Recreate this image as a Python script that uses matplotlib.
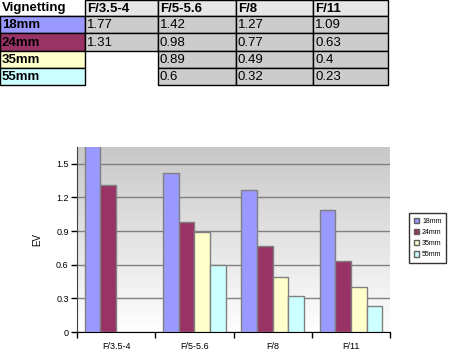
import numpy as np
import matplotlib.pyplot as plt
from matplotlib.patches import Rectangle, Patch

plt.rcParams['font.family'] = ['Liberation Sans', 'DejaVu Sans']

apertures = ['F/3.5-4', 'F/5-5.6', 'F/8', 'F/11']
lenses = ['18mm', '24mm', '35mm', '55mm']
ev_18 = [1.77, 1.42, 1.27, 1.09]
ev_24 = [1.31, 0.98, 0.77, 0.63]
ev_35 = [None, 0.89, 0.49, 0.4]
ev_55 = [None, 0.6, 0.32, 0.23]
lens_colors = ['#9999ff', '#993366', '#ffffcc', '#ccffff']

series = [ev_18, ev_24, ev_35, ev_55]

fig = plt.figure(figsize=(4.54, 3.6), dpi=100)

# table on top, drawn in pixel coordinates
tab = fig.add_axes([0, 0, 1, 1])
tab.set_xlim(0, 454)
tab.set_ylim(360, 0)
tab.axis('off')

col_x = [0, 85, 158, 236, 313, 388]
row_y = [0, 16, 33, 51, 68, 85]

def cell(c, r, fc, text, bold=False, edge='black', z=2):
    x0, x1 = col_x[c], col_x[c + 1]
    y0, y1 = row_y[r], row_y[r + 1]
    tab.add_patch(Rectangle((x0, y0), x1 - x0, y1 - y0, facecolor=fc,
                            edgecolor=edge, linewidth=1, zorder=z))
    if text:
        tab.text(x0 + 2, (y0 + y1) / 2 + 0.5, text, fontsize=9.5,
                 fontweight='bold' if bold else 'normal', color='black',
                 va='center', ha='left', zorder=3)

tab.text(2, 8.5, 'Vignetting', fontsize=9.5, fontweight='bold', va='center')
tab.plot([0, 85], [16, 16], color='black', lw=1)
for j, a in enumerate(apertures):
    cell(j + 1, 0, '#e6e6e6', a, bold=True)
for i, lens in enumerate(lenses):
    cell(0, i + 1, lens_colors[i], lens, bold=True)
    for j in range(4):
        v = series[i][j]
        if v is None:
            cell(j + 1, i + 1, 'white', '', edge='none', z=1)
        else:
            cell(j + 1, i + 1, '#cccccc', str(v))

# bar chart
ax = fig.add_axes([77 / 454, 1 - 332 / 360, 313 / 454, 185 / 360])
grad = np.linspace(0, 1, 256).reshape(-1, 1)
ax.imshow(grad, cmap=plt.matplotlib.colors.LinearSegmentedColormap.from_list(
    'bg', ['#c8c8c8', '#ffffff']), extent=[0, 1, 0, 1], transform=ax.transAxes,
    aspect='auto', zorder=0)

x = np.arange(len(apertures))
w = 0.2
for i, vals in enumerate(series):
    v = np.array([np.nan if t is None else t for t in vals], dtype=float)
    ax.bar(x - 0.3 + i * w, v, width=w, color=lens_colors[i],
           edgecolor='#808080', linewidth=1, zorder=3)

ax.set_xlim(-0.5, 3.5)
ax.set_ylim(0, 1.65)
ax.set_yticks([0, 0.3, 0.6, 0.9, 1.2, 1.5])
ax.set_yticklabels(['0', '0.3', '0.6', '0.9', '1.2', '1.5'])
ax.yaxis.grid(True, color='#808080', linewidth=1, zorder=1)
ax.set_axisbelow(True)
ax.set_xticks(x)
ax.set_xticklabels(apertures)
ax.set_xticks(np.arange(-0.5, 4, 1), minor=True)
ax.tick_params(axis='x', which='major', length=0, labelsize=6.5, pad=7)
ax.tick_params(axis='x', which='minor', length=4, direction='out', width=1)
ax.tick_params(axis='y', length=4, width=1, labelsize=6.5, pad=2)
for s in ['top', 'right']:
    ax.spines[s].set_visible(False)
ax.spines['left'].set_color('#404040')
ax.spines['bottom'].set_color('black')
ax.set_ylabel('EV', fontsize=7, labelpad=10)

handles = [Patch(facecolor=c, edgecolor='#606060', label=l)
           for c, l in zip(lens_colors, lenses)]
leg = fig.legend(handles=handles, loc='center left',
                 bbox_to_anchor=(406 / 454, 1 - 238 / 360), fontsize=5,
                 frameon=True, fancybox=False, handlelength=0.8,
                 handleheight=0.8, handletextpad=0.4, labelspacing=0.6,
                 borderpad=0.6)
leg.get_frame().set_edgecolor('black')
leg.get_frame().set_linewidth(1)

fig.savefig('out.png', dpi=100)
